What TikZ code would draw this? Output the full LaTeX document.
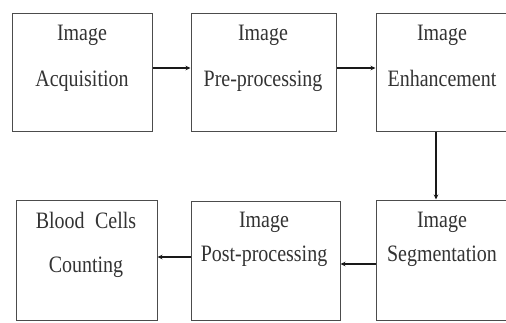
\documentclass[tikz,border=0pt]{standalone}
\usepackage{fontspec}
\setmainfont[FakeStretch=0.85]{Liberation Serif}
\usetikzlibrary{arrows.meta}
\begin{document}
\begin{tikzpicture}[x=1pt,y=-1pt,
  box/.style={draw=black!70,line width=1pt,rectangle,inner sep=0pt},
  lbl/.style={anchor=base,inner sep=0pt,text=black!80,font=\fontsize{23.5}{26}\selectfont},
  arr/.style={line width=1.4pt,black!90,-{Stealth[length=5pt,width=4.5pt]}}]
\useasboundingbox (0,0) rectangle (506,322);
\fill[white] (0,0) rectangle (506,322);
% boxes
\node[box,minimum width=140pt,minimum height=118pt] (b1) at (82,72) {};
\node[box,minimum width=145pt,minimum height=118pt] (b2) at (263.5,72) {};
\node[box,minimum width=130pt,minimum height=118pt] (b3) at (441,72) {};
\node[box,minimum width=141pt,minimum height=120pt] (b4) at (86.5,260) {};
\node[box,minimum width=149pt,minimum height=119pt] (b5) at (265.5,260.5) {};
\node[box,minimum width=130pt,minimum height=120pt] (b6) at (441,260) {};
% labels
\node[lbl] (t1a) at (82,40) {Image};
\node[lbl] (t1b) at (82,86) {Acquisition};
\node[lbl] (t2a) at (263,40) {Image};
\node[lbl] (t2b) at (263,86) {Pre-processing};
\node[lbl] (t3a) at (442,40) {Image};
\node[lbl] (t3b) at (442,86) {Enhancement};
\node[lbl] (t4a) at (86,228) {Blood\hspace{0.45em}Cells};
\node[lbl] (t4b) at (86,272) {Counting};
\node[lbl] (t5a) at (264,227) {Image};
\node[lbl] (t5b) at (264,261) {Post-processing};
\node[lbl] (t6a) at (442,227) {Image};
\node[lbl] (t6b) at (442,261) {Segmentation};
% connectors
\draw[arr] (b1.east |- 0,68) -- (b2.west |- 0,68);
\draw[arr] (b2.east |- 0,68) -- (b3.west |- 0,68);
\draw[arr] (b3.south -| 436,0) -- (b6.north -| 436,0);
\draw[arr] (b6.west |- 0,264) -- (b5.east |- 0,264);
\draw[arr] (b5.west |- 0,257) -- (b4.east |- 0,257);
\end{tikzpicture}
\end{document}
